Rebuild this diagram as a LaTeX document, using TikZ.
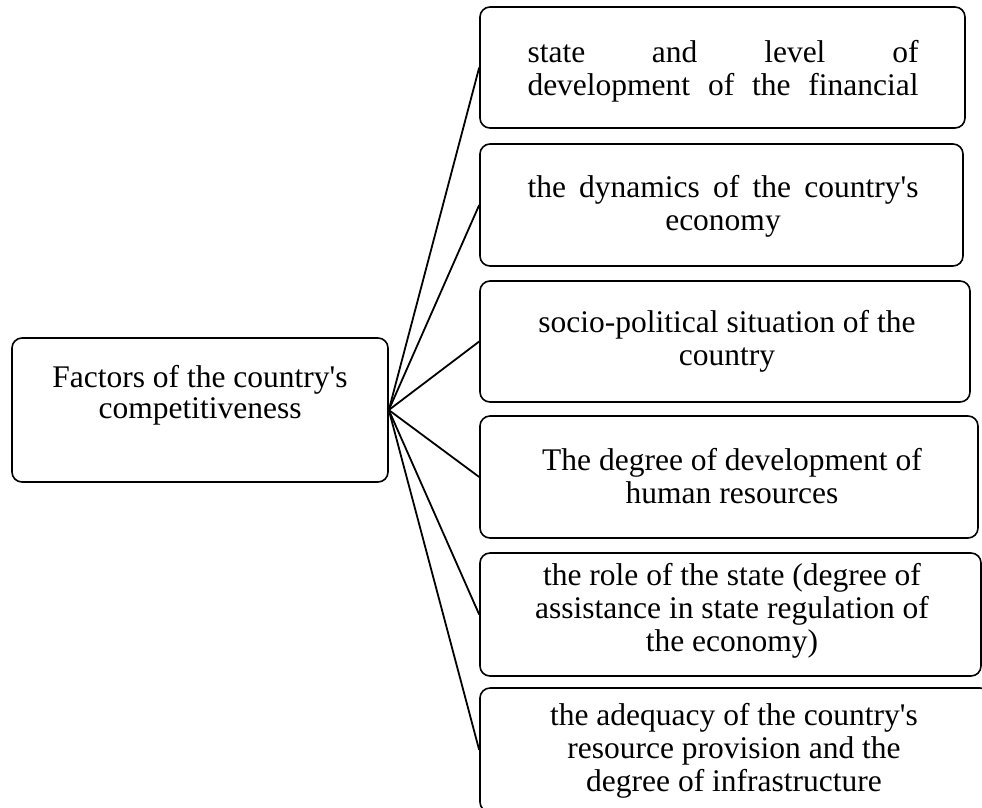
\documentclass[tikz,border=0pt]{standalone}
\usepackage{fontspec}
\setmainfont{Liberation Serif}
\newcommand{\ap}{\textquotesingle}
\begin{document}
\begin{tikzpicture}[x=1pt,y=-1pt,
  box/.style={draw=black, line width=1.6pt, rounded corners=10pt, inner sep=0pt},
  txt/.style={anchor=base, inner sep=0pt, font=\fontsize{31.5}{33}\selectfont},
  link/.style={draw=black, line width=1.8pt}]
\useasboundingbox (0,0) rectangle (982,807);
\clip (0,0) rectangle (982,807);
% boxes
\node[box, minimum width=376pt, minimum height=144pt] (L) at (200,410) {};
\node[box, minimum width=485pt, minimum height=121pt] (b1) at (722.5,67.5) {};
\node[box, minimum width=483pt, minimum height=122pt] (b2) at (721.5,205) {};
\node[box, minimum width=490pt, minimum height=121pt] (b3) at (725,341.5) {};
\node[box, minimum width=498pt, minimum height=122pt] (b4) at (729,477) {};
\node[box, minimum width=501pt, minimum height=123pt] (b5) at (730.5,614.5) {};
\node[box, minimum width=510pt, minimum height=124pt] (b6) at (735,750) {};
% texts
\node[txt, font=\fontsize{31.5}{31}\selectfont] (tL) at (200,387) {\parbox[t]{360pt}{\centering Factors of the country\ap s\\competitiveness}};
\node[txt] (t1) at (723,62) {\parbox[t]{460pt}{\centering \makebox[391pt][s]{state and level of}\\\makebox[391pt][s]{development of the financial}}};
\node[txt] (t2) at (723,197) {\parbox[t]{460pt}{\centering \makebox[391pt][s]{the dynamics of the country\ap s}\\economy}};
\node[txt] (t3) at (727,332) {\parbox[t]{470pt}{\centering socio-political situation of the\\country}};
\node[txt] (t4) at (732,470) {\parbox[t]{470pt}{\centering The degree of development of\\human resources}};
\node[txt] (t5) at (732,585) {\parbox[t]{480pt}{\centering the role of the state (degree of\\assistance in state regulation of\\the economy)}};
\node[txt] (t6) at (734,725) {\parbox[t]{480pt}{\centering the adequacy of the country\ap s\\resource provision and the\\degree of infrastructure}};
% connectors
\foreach \b in {b1,b2,b3,b4,b5,b6}{
  \draw[link] (L.east) -- (\b.west);
}
\end{tikzpicture}
\end{document}
